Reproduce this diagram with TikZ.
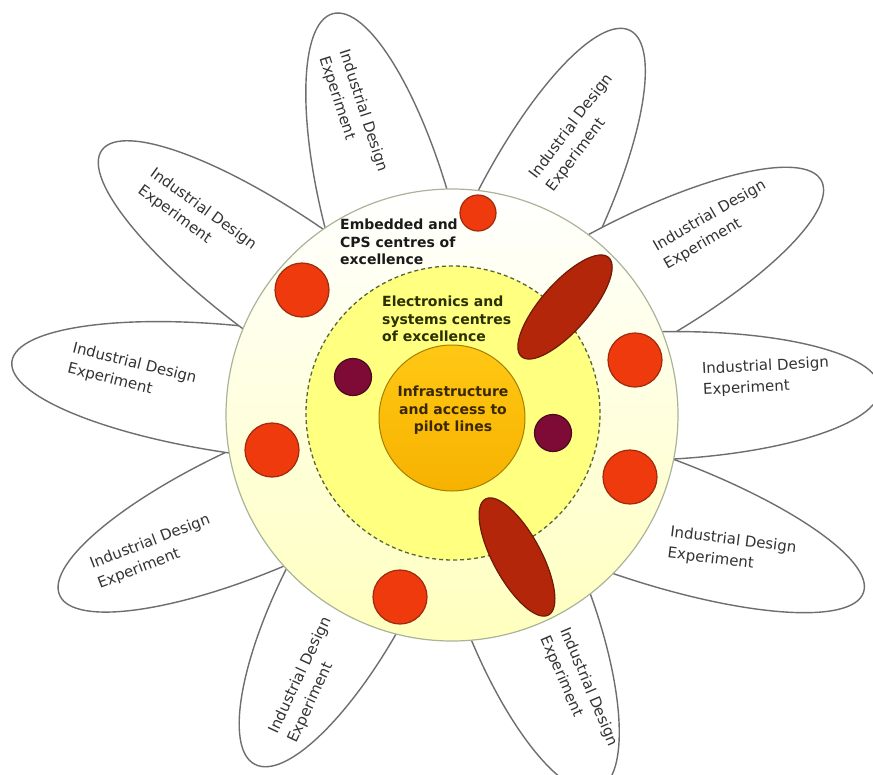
\documentclass[tikz,border=0pt]{standalone}
\usepackage{fontspec}
\setmainfont{DejaVu Sans}
\usetikzlibrary{shapes.geometric}

\definecolor{petalline}{HTML}{6E6E6E}
\definecolor{petalink}{HTML}{333333}
\definecolor{ringtop}{HTML}{FFFFFF}
\definecolor{ringbottom}{HTML}{FFFFBE}
\definecolor{ringline}{HTML}{AAB498}
\definecolor{coreyellow}{HTML}{FFFF80}
\definecolor{coreline}{HTML}{55663A}
\definecolor{hubtop}{HTML}{FFC814}
\definecolor{hubbottom}{HTML}{F7B200}
\definecolor{hubline}{HTML}{A87E00}
\definecolor{dotred}{HTML}{EE3A0C}
\definecolor{dotredline}{HTML}{A02A0E}
\definecolor{dotmaroon}{HTML}{7E0A36}
\definecolor{dotmaroonline}{HTML}{4A0A1E}
\definecolor{podbrown}{HTML}{B3260A}
\definecolor{podbrownline}{HTML}{6E1A06}
\definecolor{inkdark}{HTML}{1A1A1A}
\definecolor{inkolive}{HTML}{2B3000}
\definecolor{inkbrown}{HTML}{3A2800}

\begin{document}
\begin{tikzpicture}[x=1pt,y=-1pt,
  petal/.style={ellipse, draw=petalline, line width=1.4pt, fill=white,
    inner sep=0pt, minimum height=128pt},
  petaltext/.style={align=left, text=petalink, inner sep=0pt,
    font=\fontsize{15}{21}\selectfont},
  ring/.style={circle, inner sep=0pt},
  label/.style={inner sep=0pt, font=\bfseries\fontsize{14}{17.5}\selectfont},
  reddot/.style={circle, inner sep=0pt, fill=dotred, draw=dotredline, line width=1.2pt},
  maroondot/.style={circle, inner sep=0pt, fill=dotmaroon, draw=dotmaroonline, line width=1.2pt},
  pod/.style={ellipse, inner sep=0pt, fill=podbrown, draw=podbrownline, line width=1.2pt,
    minimum width=132pt, minimum height=48pt}
]
\useasboundingbox[fill=white] (0,0) rectangle (873,774);

% petals
\node[petal, minimum width=434pt, rotate=105.3] (pA) at (390,223) {};
\node[petal, minimum width=442pt, rotate=63.4]  (pB) at (531,228) {};
\node[petal, minimum width=470pt, rotate=28.6]  (pC) at (615,293) {};
\node[petal, minimum width=458pt, rotate=1.9]   (pD) at (651,396) {};
\node[petal, minimum width=492pt, rotate=-19.1] (pE) at (631,512) {};
\node[petal, minimum width=402pt, rotate=-68.7] (pF) at (525,602) {};
\node[petal, minimum width=406pt, rotate=-118]  (pG) at (350,585) {};
\node[petal, minimum width=462pt, rotate=-156.2] (pH) at (271,502) {};
\node[petal, minimum width=492pt, rotate=172.9] (pI) at (256,392) {};
\node[petal, minimum width=479pt, rotate=144.6] (pJ) at (297,289) {};

% petal captions
\node[petaltext, rotate=-72] (tA) at (353,114) {Industrial Design\\Experiment};
\node[petaltext, rotate=53]  (tB) at (580,133) {Industrial Design\\Experiment};
\node[petaltext, rotate=30]  (tC) at (715,225) {Industrial Design\\Experiment};
\node[petaltext, rotate=3]   (tD) at (766,377) {Industrial Design\\Experiment};
\node[petaltext, rotate=-7]  (tE) at (732,551) {Industrial Design\\Experiment};
\node[petaltext, rotate=-67] (tF) at (579,691) {Industrial Design\\Experiment};
\node[petaltext, rotate=65]  (tG) at (310,680) {Industrial Design\\Experiment};
\node[petaltext, rotate=21]  (tH) at (154,552) {Industrial Design\\Experiment};
\node[petaltext, rotate=-14] (tI) at (132,374) {Industrial Design\\Experiment};
\node[petaltext, rotate=-36] (tJ) at (197,218) {Industrial Design\\Experiment};

% concentric discs
\node[ring, minimum size=452pt, top color=ringtop, bottom color=ringbottom,
  draw=ringline, line width=1.2pt] (outer) at (452,415) {};
\node[ring, minimum size=294pt, fill=coreyellow, draw=coreline,
  dash pattern=on 4pt off 3pt, line width=1.3pt] (middle) at (453,413) {};
\node[ring, minimum size=146pt, top color=hubtop, bottom color=hubbottom,
  draw=hubline, line width=1pt] (hub) at (452,418) {};

% ring captions
\node[label, text=inkdark, align=left, anchor=north west] (lOuter) at (340,219)
  {Embedded and\\CPS centres of\\excellence};
\node[label, text=inkolive, align=left, anchor=north west] (lMiddle) at (382,296)
  {Electronics and\\systems centres\\of excellence};
\node[label, text=inkbrown, align=center, anchor=north] (lHub) at (453,386)
  {Infrastructure\\and access to\\pilot lines};

% centres of excellence
\node[reddot, minimum size=36pt] (d1) at (478,213) {};
\node[reddot, minimum size=54pt] (d2) at (302,290) {};
\node[reddot, minimum size=54pt] (d3) at (635,360) {};
\node[reddot, minimum size=54pt] (d4) at (630,477) {};
\node[reddot, minimum size=54pt] (d5) at (272,450) {};
\node[reddot, minimum size=54pt] (d6) at (400,597) {};
\node[maroondot, minimum size=37pt] (m1) at (353,377) {};
\node[maroondot, minimum size=37pt] (m2) at (553,433) {};

% elongated links across the rings
\node[pod, rotate=48.7]  (e1) at (565,307) {};
\node[pod, rotate=-61.5] (e2) at (517,557) {};
\end{tikzpicture}
\end{document}
